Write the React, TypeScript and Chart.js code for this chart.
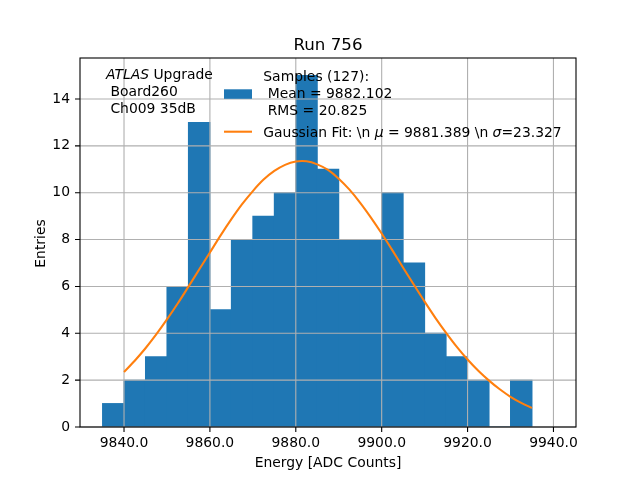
import { useEffect, useRef } from 'react';
import { Chart, registerables } from 'chart.js';

Chart.register(...registerables);

// histogram bins (centres, width 5) and entries per bin
const binCenters = [
  9837.5, 9842.5, 9847.5, 9852.5, 9857.5, 9862.5, 9867.5, 9872.5, 9877.5, 9882.5,
  9887.5, 9892.5, 9897.5, 9902.5, 9907.5, 9912.5, 9917.5, 9922.5, 9927.5, 9932.5,
];
const binCounts = [1, 2, 3, 6, 13, 5, 8, 9, 10, 15, 11, 8, 8, 10, 7, 4, 3, 2, 0, 2];

// gaussian fit curve
const fitX = [
  9840, 9842.5, 9845, 9847.5, 9850, 9852.5, 9855, 9857.5, 9860, 9862.5,
  9865, 9867.5, 9870, 9872.5, 9875, 9877.5, 9880, 9882.5, 9885, 9887.5,
  9890, 9892.5, 9895, 9897.5, 9900, 9902.5, 9905, 9907.5, 9910, 9912.5,
  9915, 9917.5, 9920, 9922.5, 9925, 9927.5, 9930, 9932.5, 9935,
];
const fitY = [
  2.35, 2.83, 3.36, 3.95, 4.59, 5.27, 5.99, 6.72, 7.45, 8.18,
  8.87, 9.51, 10.07, 10.56, 10.93, 11.19, 11.33, 11.34, 11.21, 10.97,
  10.6, 10.13, 9.57, 8.94, 8.26, 7.54, 6.8, 6.07, 5.35, 4.66,
  4.02, 3.42, 2.88, 2.4, 1.98, 1.61, 1.29, 1.03, 0.81,
];

const xTicks = [9840, 9860, 9880, 9900, 9920, 9940];
const yTicks = [0, 2, 4, 6, 8, 10, 12, 14];

const titleText = 'Run 756';
const xLabel = 'Energy [ADC Counts]';
const yLabel = 'Entries';
const samplesLines = ['Samples (127):', ' Mean = 9882.102', ' RMS = 20.825'];
// [text, italic]
const fitLabel: [string, boolean][] = [
  ['Gaussian Fit: \\n ', false],
  ['\u03bc', true],
  [' = 9881.389 \\n ', false],
  ['\u03c3', true],
  ['=23.327', false],
];
const atlasLines: [string, boolean][][] = [
  [['ATLAS', true], [' Upgrade', false]],
  [[' Board260', false]],
  [[' Ch009 35dB', false]],
];

const BLUE = '#1f77b4';
const ORANGE = '#ff7f0e';
const FONT = '"DejaVu Sans"';
const FS = 13.9;
const TICK = 5;

const drawSegments = (ctx: CanvasRenderingContext2D, x: number, y: number, segs: [string, boolean][]) => {
  let cx = x;
  for (const [t, it] of segs) {
    ctx.font = `${it ? 'italic ' : ''}${FS}px ${FONT}`;
    ctx.fillText(t, cx, y);
    cx += ctx.measureText(t).width;
  }
};

const overlay = {
  id: 'overlay',
  afterDatasetDraw(chart: any, args: any) {
    if (args.index !== 0) return;
    // grid sits above the bars but below the fit line
    const { ctx, chartArea: a, scales } = chart;
    ctx.save();
    ctx.strokeStyle = '#b0b0b0';
    ctx.lineWidth = 1.1;
    ctx.beginPath();
    xTicks.forEach((v) => {
      const px = scales.x.getPixelForValue(v);
      ctx.moveTo(px, a.top);
      ctx.lineTo(px, a.bottom);
    });
    yTicks.forEach((v) => {
      const py = scales.y.getPixelForValue(v);
      ctx.moveTo(a.left, py);
      ctx.lineTo(a.right, py);
    });
    ctx.stroke();
    ctx.restore();
  },
  afterDatasetsDraw(chart: any) {
    const { ctx, chartArea: a, scales } = chart;
    ctx.save();
    ctx.strokeStyle = '#000';
    ctx.lineWidth = 1.1;
    ctx.strokeRect(a.left, a.top, a.right - a.left, a.bottom - a.top);
    ctx.beginPath();
    xTicks.forEach((v) => {
      const px = scales.x.getPixelForValue(v);
      ctx.moveTo(px, a.bottom);
      ctx.lineTo(px, a.bottom + TICK);
    });
    yTicks.forEach((v) => {
      const py = scales.y.getPixelForValue(v);
      ctx.moveTo(a.left, py);
      ctx.lineTo(a.left - TICK, py);
    });
    ctx.stroke();
    ctx.restore();
  },
  afterDraw(chart: any) {
    const { ctx, chartArea: a } = chart;
    ctx.save();
    ctx.fillStyle = '#000';
    ctx.textBaseline = 'alphabetic';

    // title
    ctx.textAlign = 'center';
    ctx.font = `16.67px ${FONT}`;
    ctx.fillText(titleText, (a.left + a.right) / 2, 49.5);

    // axis labels
    ctx.font = `${FS}px ${FONT}`;
    ctx.fillText(xLabel, (a.left + a.right) / 2, 466.5);
    ctx.save();
    ctx.translate(45, (a.top + a.bottom) / 2 + 1);
    ctx.rotate(-Math.PI / 2);
    ctx.fillText(yLabel, 0, 0);
    ctx.restore();

    // ATLAS text
    ctx.textAlign = 'left';
    atlasLines.forEach((segs, i) => drawSegments(ctx, 106, 79.2 + i * 16.8, segs));

    // legend
    ctx.fillStyle = BLUE;
    ctx.fillRect(224, 89.3, 28, 9.5);
    ctx.strokeStyle = ORANGE;
    ctx.lineWidth = 2.08;
    ctx.beginPath();
    ctx.moveTo(224, 131.7);
    ctx.lineTo(252, 131.7);
    ctx.stroke();
    ctx.fillStyle = '#000';
    ctx.font = `${FS}px ${FONT}`;
    samplesLines.forEach((t, i) => ctx.fillText(t, 263.3, 81.1 + i * 16.7));
    drawSegments(ctx, 263.3, 136.8, fitLabel);
    ctx.restore();
  },
};

export default function App() {
  const canvasRef = useRef<HTMLCanvasElement>(null);

  useEffect(() => {
    const canvas = canvasRef.current;
    if (!canvas) return;
    const chart = new Chart(canvas, {
      type: 'bar',
      data: {
        datasets: [
          {
            type: 'bar',
            data: binCenters.map((x, i) => ({ x, y: binCounts[i] })),
            backgroundColor: BLUE,
            borderWidth: 0,
            barPercentage: 1,
            categoryPercentage: 1,
            inflateAmount: 0.5,
            order: 2,
          },
          {
            type: 'line',
            data: fitX.map((x, i) => ({ x, y: fitY[i] })),
            borderColor: ORANGE,
            borderWidth: 2.08,
            pointRadius: 0,
            tension: 0.3,
            fill: false,
            order: 1,
          },
        ] as any,
      },
      options: {
        responsive: false,
        animation: false,
        layout: { padding: { left: 0, right: 64, top: 58, bottom: 0 } },
        plugins: {
          legend: { display: false },
          tooltip: { enabled: false },
          title: { display: false },
        },
        scales: {
          x: {
            type: 'linear',
            offset: false,
            min: 9829.75,
            max: 9945.25,
            afterBuildTicks: (s: any) => {
              s.ticks = xTicks.map((value) => ({ value }));
            },
            afterFit: (s: any) => {
              s.height = 53;
            },
            border: { display: false },
            grid: { display: false, drawTicks: true, tickLength: TICK },
            ticks: {
              color: '#000',
              padding: 3,
              maxRotation: 0,
              font: { family: 'DejaVu Sans', size: FS },
              callback: (v: any) => Number(v).toFixed(1),
            },
          },
          y: {
            type: 'linear',
            min: 0,
            max: 15.75,
            afterBuildTicks: (s: any) => {
              s.ticks = yTicks.map((value) => ({ value }));
            },
            afterFit: (s: any) => {
              s.width = 80;
            },
            border: { display: false },
            grid: { display: false, drawTicks: true, tickLength: TICK },
            ticks: {
              color: '#000',
              padding: 5,
              font: { family: 'DejaVu Sans', size: FS },
              callback: (v: any) => String(v),
            },
          },
        },
      },
      plugins: [overlay],
    });
    return () => chart.destroy();
  }, []);

  return (
    <div style={{ position: 'absolute', left: 0, top: 0, width: 640, height: 480, background: '#fff' }}>
      <canvas ref={canvasRef} width={640} height={480} style={{ width: 640, height: 480 }} />
    </div>
  );
}
